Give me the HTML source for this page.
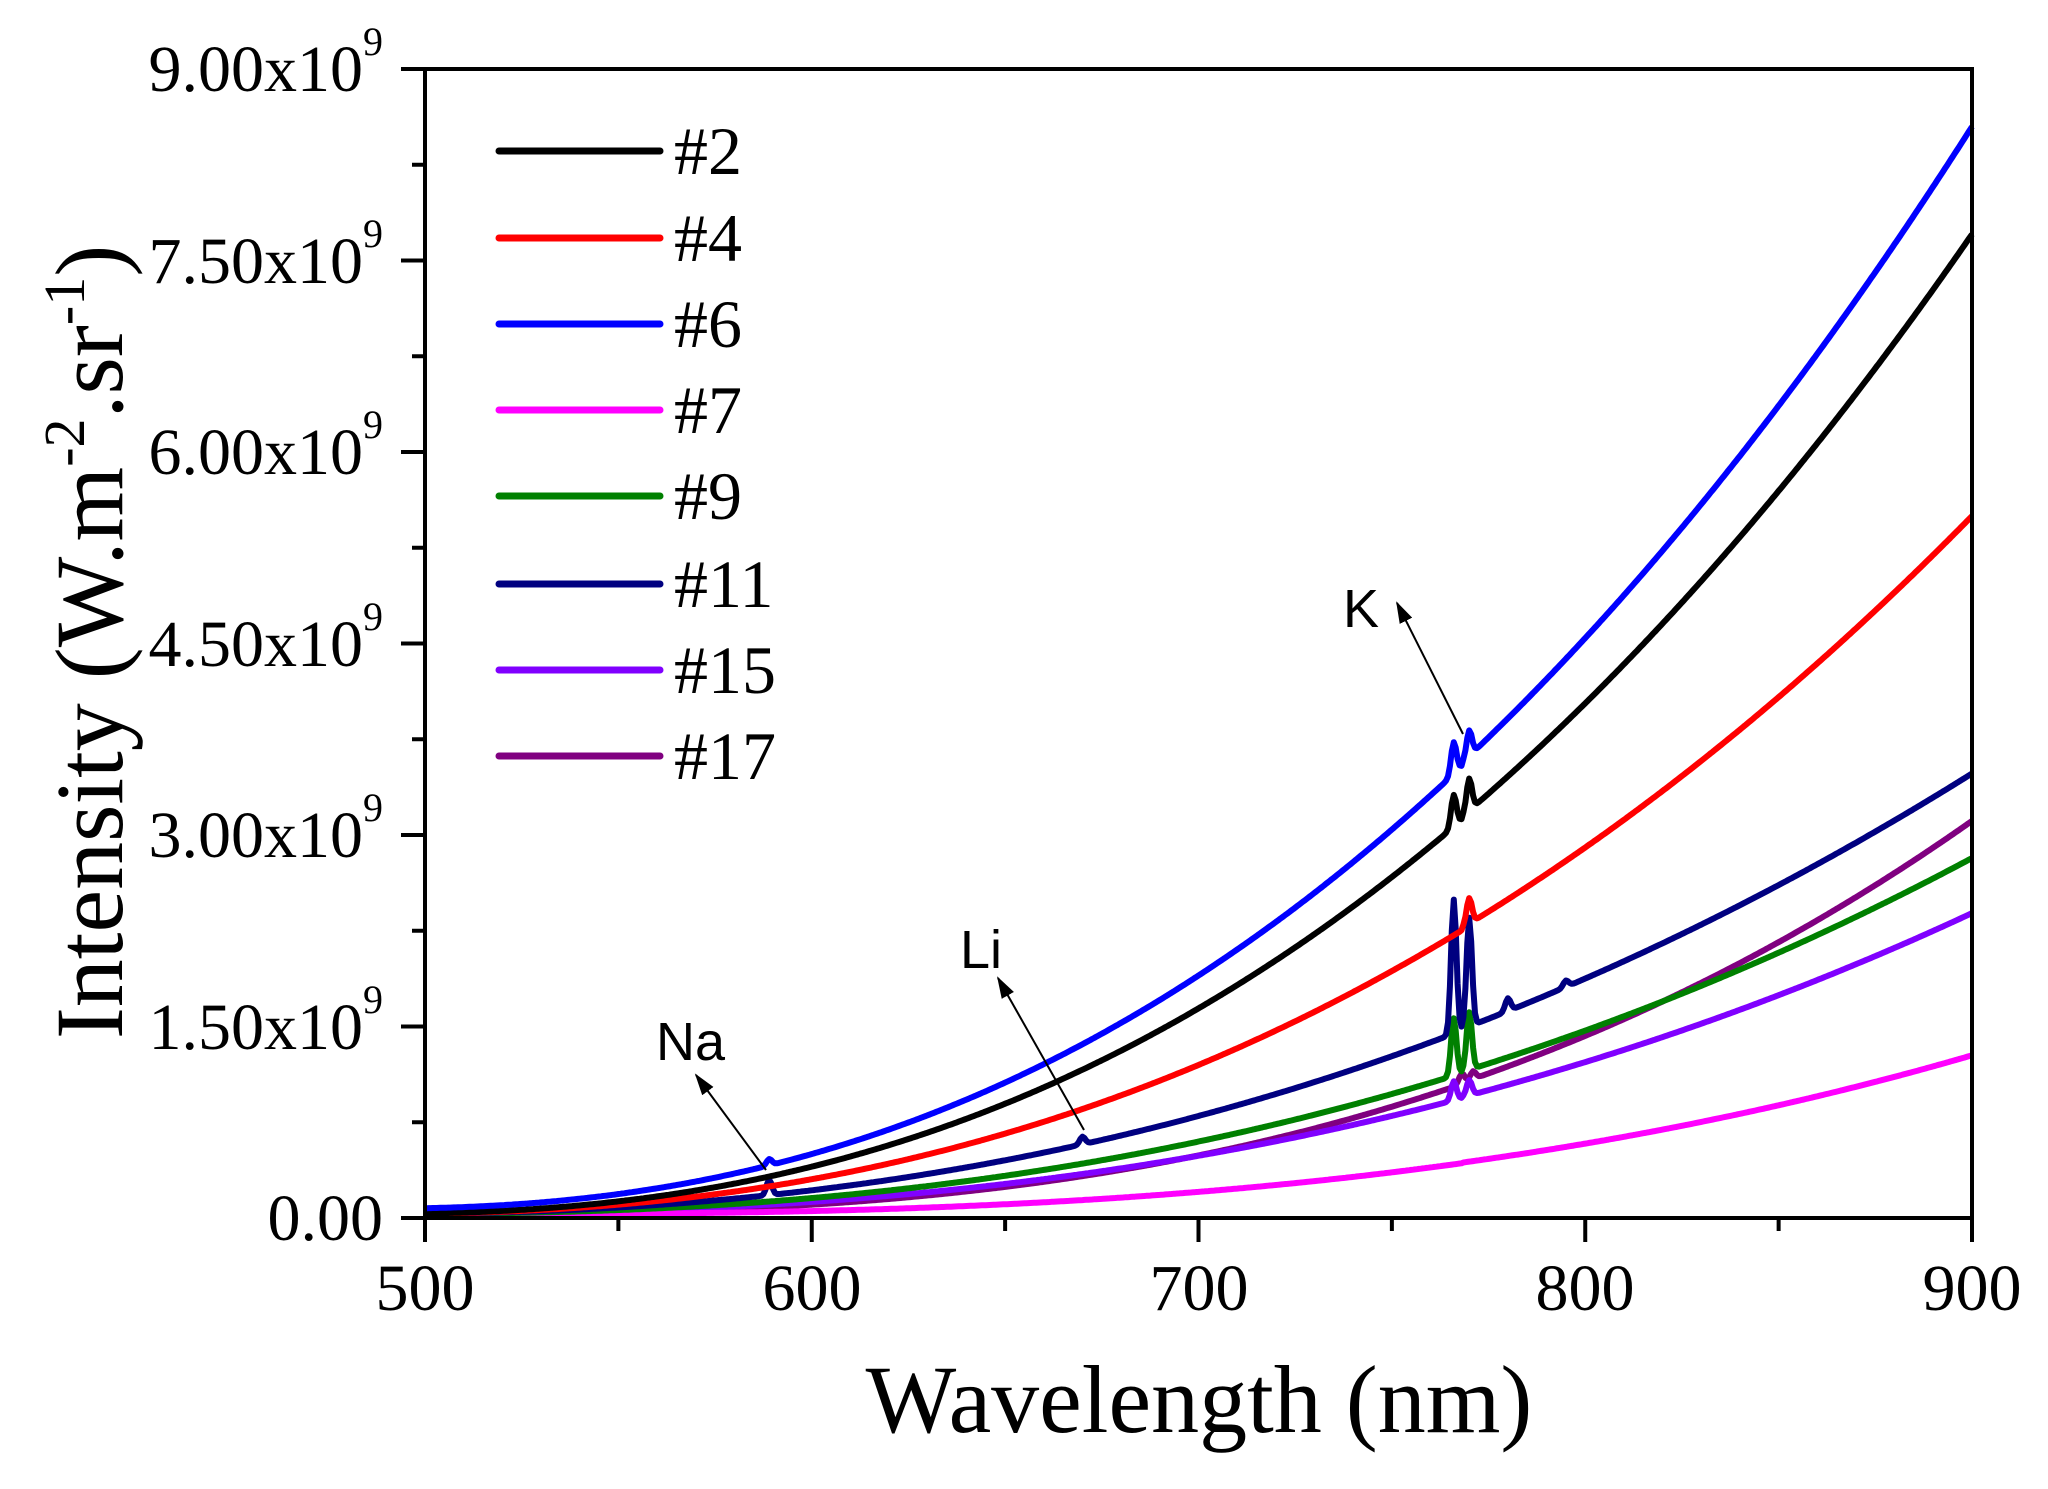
<!DOCTYPE html>
<html><head><meta charset="utf-8"><style>
html,body{margin:0;padding:0;background:#fff;}
svg{display:block;}
.t{font-family:"Liberation Serif",serif;fill:#000;}
.s{font-family:"Liberation Sans",sans-serif;fill:#000;}
</style></head><body>
<svg id="c" width="2048" height="1489" viewBox="0 0 2048 1489" xmlns="http://www.w3.org/2000/svg">
<defs>
<marker id="ah2" markerWidth="22" markerHeight="16" refX="20" refY="8" orient="auto" markerUnits="userSpaceOnUse"><path d="M0,1 L22,8 L0,15 Z" fill="#000"/></marker></defs>
<g id="series"></g>
<rect x="425" y="69" width="1547" height="1149" fill="none" stroke="#000" stroke-width="4"/>
<g id="ticks" stroke="#000" stroke-width="4"></g>
<g class="t" font-size="66" text-anchor="end">
<text x="383" y="1240">0.00</text>
<text x="383" y="1049">1.50x10<tspan font-size="40" dy="-36">9</tspan></text>
<text x="383" y="857">3.00x10<tspan font-size="40" dy="-36">9</tspan></text>
<text x="383" y="666">4.50x10<tspan font-size="40" dy="-36">9</tspan></text>
<text x="383" y="474">6.00x10<tspan font-size="40" dy="-36">9</tspan></text>
<text x="383" y="283">7.50x10<tspan font-size="40" dy="-36">9</tspan></text>
<text x="383" y="91">9.00x10<tspan font-size="40" dy="-36">9</tspan></text>
</g>
<g class="t" font-size="66" text-anchor="middle">
<text x="425" y="1310">500</text>
<text x="812" y="1310">600</text>
<text x="1199" y="1310">700</text>
<text x="1585" y="1310">800</text>
<text x="1972" y="1310">900</text>
</g>
<text class="t" x="1199" y="1432" font-size="96" text-anchor="middle">Wavelength (nm)</text>
<text class="t" transform="translate(122,642) rotate(-90)" font-size="96" text-anchor="middle">Intensity (W.m<tspan font-size="58" dy="-38">-2</tspan><tspan dy="38">.sr</tspan><tspan font-size="58" dy="-38">-1</tspan><tspan dy="38">)</tspan></text>
<g stroke-width="7" stroke-linecap="round">
<line x1="499" y1="151" x2="660" y2="151" stroke="#000"/>
<line x1="499" y1="238" x2="660" y2="238" stroke="#ff0000"/>
<line x1="499" y1="324" x2="660" y2="324" stroke="#0000ff"/>
<line x1="499" y1="410" x2="660" y2="410" stroke="#ff00ff"/>
<line x1="499" y1="496" x2="660" y2="496" stroke="#008000"/>
<line x1="499" y1="584" x2="660" y2="584" stroke="#000080"/>
<line x1="499" y1="670" x2="660" y2="670" stroke="#8000ff"/>
<line x1="499" y1="756" x2="660" y2="756" stroke="#800080"/>
</g>
<g class="t" font-size="68">
<text x="674" y="174">#2</text>
<text x="674" y="261">#4</text>
<text x="674" y="347">#6</text>
<text x="674" y="433">#7</text>
<text x="674" y="519">#9</text>
<text x="674" y="607">#11</text>
<text x="674" y="693">#15</text>
<text x="674" y="779">#17</text>
</g>
<g class="s" font-size="54">
<text x="656" y="1060">Na</text>
<text x="960" y="968">Li</text>
<text x="1343" y="627">K</text>
</g>
<g stroke="#000" stroke-width="2" marker-end="url(#ah2)">
<line x1="766" y1="1170" x2="696" y2="1075"/>
<line x1="1084" y1="1130" x2="998" y2="978"/>
<line x1="1463" y1="734" x2="1397" y2="603"/>
</g>
</svg>
<script>
(function(){
var NS="http://www.w3.org/2000/svg";
var X0=425,X1=1972,Y0=1218,H=1149;
function px(w){return X0+(w-500)/400*(X1-X0);}
function py(v){return Y0-v/9*H;}
var S=[
 ["#800080",3.10,2.9,[[768,0.08],[771,0.06]]],
 ["#8000ff",2.38,2.5,[[766,0.15],[770,0.12]]],
 ["#ff00ff",1.27,2.94,[]],
 ["#008000",2.81,2.43,[[766,0.45],[770,0.45]]],
 ["#000080",3.47,2.3,[[589,0.12],[670,0.06],[766,1.05],[770,0.85],[780,0.1],[795,0.05]]],
 ["#ff0000",5.48,2.37,[[770,0.2]]],
 ["#000000",7.68,2.4,[[766,0.25],[770,0.25]]],
 ["#0000ff",8.52,2.35,[[589,0.05],[766,0.25],[770,0.2]]]
];
var g=document.getElementById("series");
S.forEach(function(s){
 var d="";
 for(var w=500;w<=900;w+=0.5){
  var t=Math.max(0,(w-480)/420);
  var v=s[1]*Math.pow(t,s[2])+(0.03+(s[0]=="#0000ff"?0.04:0))*(900-w)/400;
  if(w>768) v+=0.01*s[1]/3;
  s[3].forEach(function(p){var dx=w-p[0];v+=p[1]*Math.exp(-dx*dx/(2*0.7*0.7));});
  d+=(d?"L":"M")+px(w).toFixed(1)+","+py(v).toFixed(1);
 }
 var p=document.createElementNS(NS,"path");
 p.setAttribute("d",d);p.setAttribute("fill","none");p.setAttribute("stroke",s[0]);
 p.setAttribute("stroke-width","6");p.setAttribute("stroke-linejoin","round");
 g.appendChild(p);
});
var tk=document.getElementById("ticks");
function ln(a,b,c,d){var l=document.createElementNS(NS,"line");l.setAttribute("x1",a);l.setAttribute("y1",b);l.setAttribute("x2",c);l.setAttribute("y2",d);tk.appendChild(l);}
for(var i=0;i<=8;i++){var x=X0+i*(X1-X0)/8;ln(x,Y0,x,Y0+(i%2==0?24:13));}
for(var j=0;j<=12;j++){var y=Y0-j*H/12;ln(X0,y,X0-(j%2==0?24:13),y);}
})();
</script>
</body></html>
